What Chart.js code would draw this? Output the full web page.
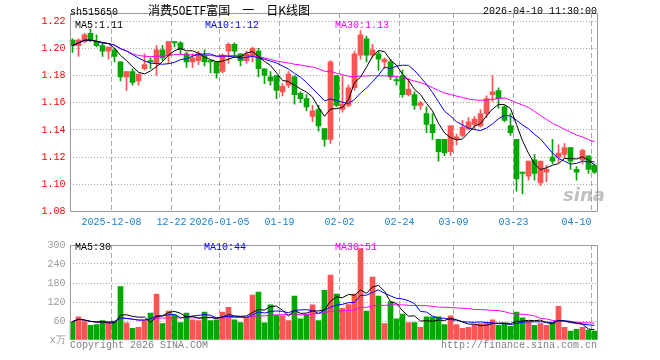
<!DOCTYPE html>
<html>
<head>
<meta charset="utf-8">
<script src="https://cdn.jsdelivr.net/npm/chart.js@4.4.1/dist/chart.umd.min.js"></script>
<style>
  body { margin: 0; background: #fff; }
  #wrap { position: relative; width: 660px; height: 360px; font-family: "Liberation Mono", monospace; font-size: 10px; }
  #wrap canvas { position: absolute; left: 0; }
  .t { position: absolute; white-space: pre; line-height: 10px; }
</style>
</head>
<body>
<div id="wrap">
  <canvas id="kline" width="660" height="235" style="top:0"></canvas>
  <canvas id="vol" width="660" height="125" style="top:235px"></canvas>

  <div class="t" style="left:70px;top:8px">sh515650</div>
  <div class="t" style="left:129px;width:200px;top:3px;text-align:center;font:12px 'Noto Sans CJK SC';line-height:14px">消费50ETF富国　一　日K线图</div>
  <div class="t" style="right:63px;top:7px">2026-04-10 11:30:00</div>

  <div class="t" style="left:75px;top:21px;color:#000">MA5:1.11</div>
  <div class="t" style="left:205px;top:21px;color:#0000ff">MA10:1.12</div>
  <div class="t" style="left:335px;top:21px;color:#ff00ff">MA30:1.13</div>

  <div class="t" style="left:75px;top:243px;color:#000">MA5:30</div>
  <div class="t" style="left:204px;top:243px;color:#0000ff">MA10:44</div>
  <div class="t" style="left:335px;top:243px;color:#ff00ff">MA30:51</div>

  <div class="t" style="left:563px;top:186px;font:italic bold 18px 'DejaVu Sans';line-height:18px;color:rgba(140,140,140,0.55)">sina</div>

  <div class="t" style="left:70px;top:341px;color:#808080">Copyright 2026 SINA.COM</div>
  <div class="t" style="right:63px;top:341px;color:#808080">http://finance.sina.com.cn</div>
</div>

<script>
// trading days shown on the chart
const dates = [
  '2025-11-27','2025-11-28','2025-12-01','2025-12-02','2025-12-03','2025-12-04','2025-12-05',
  '2025-12-08','2025-12-09','2025-12-10','2025-12-11','2025-12-12','2025-12-15','2025-12-16',
  '2025-12-17','2025-12-18','2025-12-19','2025-12-22','2025-12-23','2025-12-24','2025-12-25',
  '2025-12-26','2025-12-29','2025-12-30','2025-12-31','2026-01-05','2026-01-06','2026-01-07',
  '2026-01-08','2026-01-09','2026-01-12','2026-01-13','2026-01-14','2026-01-15','2026-01-16',
  '2026-01-19','2026-01-20','2026-01-21','2026-01-22','2026-01-23','2026-01-26','2026-01-27',
  '2026-01-28','2026-01-29','2026-01-30','2026-02-02','2026-02-03','2026-02-04','2026-02-05',
  '2026-02-06','2026-02-09','2026-02-10','2026-02-11','2026-02-12','2026-02-13','2026-02-24',
  '2026-02-25','2026-02-26','2026-02-27','2026-03-02','2026-03-03','2026-03-04','2026-03-05',
  '2026-03-06','2026-03-09','2026-03-10','2026-03-11','2026-03-12','2026-03-13','2026-03-16',
  '2026-03-17','2026-03-18','2026-03-19','2026-03-20','2026-03-23','2026-03-24','2026-03-25',
  '2026-03-26','2026-03-27','2026-03-30','2026-03-31','2026-04-01','2026-04-02','2026-04-03',
  '2026-04-07','2026-04-08','2026-04-09','2026-04-10'
];

const opens = [
  1.206,1.202,1.205,1.211,1.205,1.202,1.198,1.199,1.190,1.179,1.183,1.176,1.185,1.191,1.189,1.199,1.195,1.205,1.204,1.196,
  1.190,1.191,1.195,1.191,1.190,1.183,1.198,1.203,1.196,1.191,1.195,1.198,1.185,1.179,1.180,1.168,1.173,1.179,1.167,1.163,
  1.150,1.155,1.141,1.133,1.180,1.155,1.158,1.171,1.195,1.207,1.195,1.196,1.190,1.190,1.177,1.180,1.166,1.166,1.158,1.152,
  1.144,1.133,1.133,1.124,1.133,1.136,1.141,1.144,1.143,1.152,1.166,1.169,1.157,1.143,1.133,1.109,1.106,1.118,1.101,1.109,
  1.120,1.120,1.122,1.127,1.111,1.118,1.121,1.114
];
const highs = [
  1.207,1.207,1.211,1.214,1.210,1.204,1.201,1.200,1.190,1.183,1.185,1.181,1.196,1.193,1.202,1.202,1.205,1.205,1.205,1.197,
  1.196,1.198,1.199,1.191,1.190,1.196,1.204,1.204,1.196,1.198,1.201,1.200,1.185,1.183,1.180,1.174,1.183,1.180,1.168,1.166,
  1.158,1.158,1.141,1.191,1.180,1.180,1.173,1.198,1.213,1.209,1.203,1.198,1.193,1.192,1.179,1.184,1.178,1.168,1.161,1.157,
  1.152,1.133,1.133,1.143,1.137,1.147,1.149,1.150,1.155,1.165,1.180,1.171,1.158,1.152,1.133,1.109,1.117,1.122,1.117,1.114,
  1.133,1.129,1.130,1.127,1.113,1.126,1.121,1.115
];
const lows = [
  1.197,1.194,1.204,1.205,1.201,1.194,1.192,1.190,1.176,1.169,1.173,1.173,1.184,1.185,1.180,1.191,1.189,1.201,1.196,1.186,
  1.186,1.188,1.187,1.182,1.178,1.182,1.189,1.194,1.187,1.189,1.190,1.179,1.174,1.173,1.163,1.165,1.171,1.159,1.160,1.154,
  1.146,1.139,1.128,1.130,1.157,1.153,1.157,1.169,1.192,1.190,1.193,1.184,1.185,1.177,1.173,1.164,1.165,1.155,1.155,1.138,
  1.133,1.117,1.121,1.121,1.129,1.135,1.140,1.140,1.142,1.149,1.161,1.156,1.146,1.136,1.095,1.093,1.103,1.103,1.099,1.102,
  1.115,1.116,1.119,1.111,1.103,1.115,1.108,1.108
];
const closes = [
  1.202,1.206,1.210,1.206,1.202,1.198,1.201,1.194,1.179,1.183,1.175,1.181,1.188,1.190,1.199,1.193,1.205,1.204,1.199,1.190,
  1.193,1.196,1.190,1.190,1.182,1.195,1.203,1.198,1.191,1.196,1.200,1.185,1.180,1.176,1.169,1.172,1.181,1.166,1.163,1.157,
  1.154,1.143,1.133,1.190,1.158,1.159,1.171,1.196,1.210,1.195,1.199,1.192,1.192,1.179,1.176,1.166,1.170,1.158,1.160,1.144,
  1.138,1.124,1.123,1.143,1.135,1.142,1.146,1.148,1.152,1.163,1.168,1.163,1.147,1.138,1.104,1.108,1.117,1.108,1.117,1.111,
  1.117,1.123,1.127,1.117,1.109,1.125,1.111,1.109
];
// volume, in 万
const volumes = [
  58,73,58,46,49,61,54,60,169,54,37,40,61,85,145,52,91,79,55,85,64,61,88,61,64,
  88,103,64,55,70,142,151,54,111,78,76,61,139,67,81,111,61,157,205,145,100,112,145,289,91,199,139,52,121,67,82,55,55,40,73,
  73,73,49,76,49,37,40,49,52,55,64,46,52,43,88,70,58,46,52,46,55,106,40,28,34,40,31,28
];

const tickDates = ['2025-12-08','2025-12-22','2026-01-05','2026-01-19','2026-02-02','2026-02-24','2026-03-09','2026-03-23','2026-04-10'];
const tickText = ['2025-12-08','12-22','2026-01-05','01-19','02-02','02-24','03-09','03-23','04-10'];

const UP = '#ff5454';
const DOWN = '#00a800';
const GRID = '#a8a8a8';

function movingAvg(arr, n) {
  return arr.map((v, i) => {
    const s = arr.slice(Math.max(0, i - n + 1), i + 1);
    return s.reduce((a, b) => a + b, 0) / s.length;
  });
}

const candleColors = closes.map((c, i) => (c >= opens[i] ? UP : DOWN));

// draws the grey box round the plot area
const framePlugin = {
  id: 'frame',
  afterDatasetsDraw(chart, args, opts) {
    const { ctx, chartArea: a } = chart;
    const l = Math.round(a.left) + 0.5, r = Math.round(a.right) - 0.5;
    const t = Math.round(a.top) + 0.5, b = Math.round(a.bottom) - 0.5;
    ctx.save();
    ctx.strokeStyle = '#999';
    ctx.lineWidth = 1;
    ctx.beginPath();
    if (opts.bottom) {
      ctx.moveTo(l, b); ctx.lineTo(r, b);
    }
    ctx.moveTo(l, b); ctx.lineTo(l, t); ctx.lineTo(r, t); ctx.lineTo(r, b);
    ctx.stroke();
    ctx.restore();
  }
};

const monoFont = { family: 'Liberation Mono', size: 10 };

function xGridColor(ctx) {
  return tickDates.includes(dates[ctx.index]) ? GRID : 'rgba(0,0,0,0)';
}

function maLine(data, color, order) {
  return {
    type: 'line', data: data, borderColor: color, borderWidth: 1,
    pointRadius: 0, tension: 0, order: order
  };
}

// K line chart
new Chart(document.getElementById('kline'), {
  type: 'bar',
  data: {
    labels: dates,
    datasets: [
      maLine(movingAvg(closes, 5), '#000000', 0),
      maLine(movingAvg(closes, 10), '#0000ff', 1),
      maLine(movingAvg(closes, 30), '#ff00ff', 2),
      {
        data: dates.map((d, i) => [opens[i], closes[i]]),
        backgroundColor: candleColors, barThickness: 5, minBarLength: 1,
        grouped: false, order: 3
      },
      {
        data: dates.map((d, i) => [lows[i], highs[i]]),
        backgroundColor: candleColors, barThickness: 1,
        grouped: false, order: 4
      }
    ]
  },
  options: {
    responsive: false,
    animation: false,
    layout: { padding: { top: 13, right: 62.5, left: 0, bottom: 0 } },
    plugins: { legend: { display: false }, tooltip: { enabled: false }, frame: { bottom: true } },
    scales: {
      x: {
        afterFit: s => { s.height = 23.5; },
        grid: { color: xGridColor, drawTicks: false },
        border: { display: false, dash: [5, 3] },
        ticks: {
          autoSkip: false, maxRotation: 0, color: '#1a80c8', font: monoFont, padding: 5, labelOffset: -3,
          callback: (v, i) => {
            const k = tickDates.indexOf(dates[i]);
            if (k < 0) return '';
            return k === tickDates.length - 1 ? tickText[k] + '     ' : tickText[k];
          }
        }
      },
      y: {
        min: 1.08, max: 1.226,
        afterFit: s => { s.width = 69.5; },
        grid: { color: GRID, drawTicks: false },
        border: { display: false, dash: [1, 2] },
        ticks: { stepSize: 0.02, includeBounds: false, color: '#ff0000', font: monoFont, padding: 4, callback: v => v.toFixed(2) }
      }
    }
  },
  plugins: [framePlugin]
});

// volume chart
new Chart(document.getElementById('vol'), {
  type: 'bar',
  data: {
    labels: dates,
    datasets: [
      maLine(movingAvg(volumes, 5), '#000000', 0),
      maLine(movingAvg(volumes, 10), '#0000ff', 1),
      maLine(movingAvg(volumes, 30), '#ff00ff', 2),
      { data: volumes, backgroundColor: candleColors, barThickness: 5, grouped: false, order: 3 }
    ]
  },
  options: {
    responsive: false,
    animation: false,
    layout: { padding: { top: 5, right: 62.5, left: 0, bottom: 0 } },
    plugins: { legend: { display: false }, tooltip: { enabled: false }, frame: { bottom: false } },
    scales: {
      x: {
        afterFit: s => { s.height = 20; },
        grid: { color: xGridColor, drawTicks: false },
        border: { display: false, dash: [5, 3] },
        ticks: { display: false }
      },
      y: {
        min: 0, max: 300,
        afterFit: s => { s.width = 69.5; },
        grid: { color: c => (c.tick.value === 0 || c.tick.value === 300 ? 'rgba(0,0,0,0)' : GRID), drawTicks: false },
        border: { display: false, dash: [1, 2] },
        ticks: { stepSize: 60, color: '#999', font: monoFont, padding: 4, callback: v => (v === 0 ? 'x万' : v) }
      }
    }
  },
  plugins: [framePlugin]
});
</script>
</body>
</html>
